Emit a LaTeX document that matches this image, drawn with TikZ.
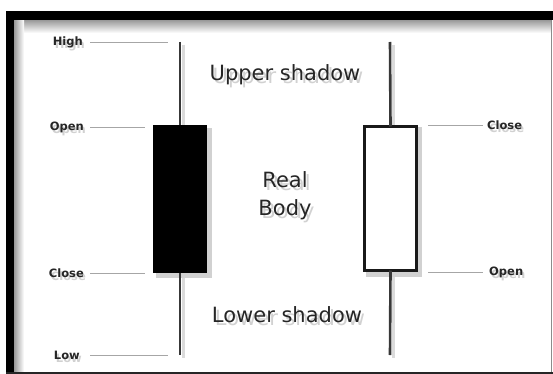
\documentclass[tikz,border=0pt]{standalone}
\usepackage{fontspec}
\newfontfamily\dv{DejaVu Sans}
\begin{document}
\begin{tikzpicture}[x=1pt,y=-1pt,
  lbl/.style={font=\dv\bfseries\fontsize{11.5}{12}\selectfont, text=black!85, inner sep=0pt},
  big/.style={font=\dv\fontsize{21}{28}\selectfont, text=black!85, inner sep=0pt, align=center},
  txtshadow/.style={text=black, opacity=0.18},
  guide/.style={draw=black!35, line width=0.8pt},
  wick/.style={draw=black!78, line width=2.6pt},
  wickshadow/.style={draw=black!14, line width=3.5pt},
  bodyshadow/.style={fill=black!18, draw=none, minimum width=56pt, minimum height=149pt, inner sep=0pt}
]
\useasboundingbox (0,0) rectangle (553,374);
\fill[white] (0,0) rectangle (553,374);
% frame
\shade[top color=black!40, bottom color=white] (14,20) rectangle (551,33);
\shade[left color=black!40, right color=white] (14,20) rectangle (24,371.5);
\fill[black] (6,11) rectangle (553,20);
\fill[black] (6,11) rectangle (14,374);
\fill[black!85] (6,371.5) rectangle (553,374);
\draw[black!45, line width=1pt] (551.5,20) -- (551.5,371.5);

% key coordinates
\coordinate (hiL) at (180,42);
\coordinate (loL) at (180,355);
\coordinate (hiR) at (390,42);
\coordinate (loR) at (390,355);

% shadows of wicks and bodies
\draw[wickshadow] (183.5,45) -- (183.5,358);
\draw[wickshadow] (393.5,45) -- (393.5,358);
\node[bodyshadow] at (184,203) {};
\node[bodyshadow] at (394,202) {};

% bodies
\node[fill=black, minimum width=54pt, minimum height=148pt, inner sep=0pt] (bodyL) at (180,199) {};
\node[fill=white, draw=black!90, line width=2.4pt, minimum width=52pt, minimum height=144pt, inner sep=0pt] (bodyR) at (390.5,198.5) {};

% wicks
\draw[wick] (hiL) -- (bodyL.north);
\draw[wick] (bodyL.south) -- (loL);
\draw[wick] (hiR) -- ([yshift=-1.2pt]bodyR.north);
\draw[wick] ([yshift=1.2pt]bodyR.south) -- (loR);

% left labels
\node[lbl, txtshadow, anchor=east] at (85,45) {High};
\node[lbl, anchor=east] (high) at (83,42) {High};
\node[lbl, txtshadow, anchor=east] at (86,130) {Open};
\node[lbl, anchor=east] (openL) at (84,127) {Open};
\node[lbl, txtshadow, anchor=east] at (86,276) {Close};
\node[lbl, anchor=east] (closeL) at (84,273) {Close};
\node[lbl, txtshadow, anchor=east] at (82,358) {Low};
\node[lbl, anchor=east] (low) at (80,355) {Low};

\coordinate (highEnd) at (168,42);
\coordinate (openEnd) at (145,127);
\coordinate (closeEnd) at (145,273);
\coordinate (lowEnd) at (168,355);
\draw[guide] ([xshift=7pt]high.east) -- (highEnd);
\draw[guide] ([xshift=6pt]openL.east) -- (openEnd);
\draw[guide] ([xshift=6pt]closeL.east) -- (closeEnd);
\draw[guide] ([xshift=10pt]low.east) -- (lowEnd);

% right labels
\node[lbl, txtshadow, anchor=west] at (489,128) {Close};
\node[lbl, anchor=west] (closeR) at (487,125) {Close};
\node[lbl, txtshadow, anchor=west] at (491,275) {Open};
\node[lbl, anchor=west] (openR) at (489,272) {Open};
\coordinate (closeRStart) at (428,125);
\coordinate (openRStart) at (428,272);
\draw[guide] (closeRStart) -- ([xshift=-4pt]closeR.west);
\draw[guide] (openRStart) -- ([xshift=-6pt]openR.west);

% central texts
\node[big, txtshadow] at (288,78) {Upper shadow};
\node[big] (upper) at (285,75) {Upper shadow};
\node[big, txtshadow] at (288,199) {Real\\Body};
\node[big] (real) at (285,196) {Real\\Body};
\node[big, txtshadow] at (290,318) {Lower shadow};
\node[big] (lower) at (287,315) {Lower shadow};
\end{tikzpicture}
\end{document}
